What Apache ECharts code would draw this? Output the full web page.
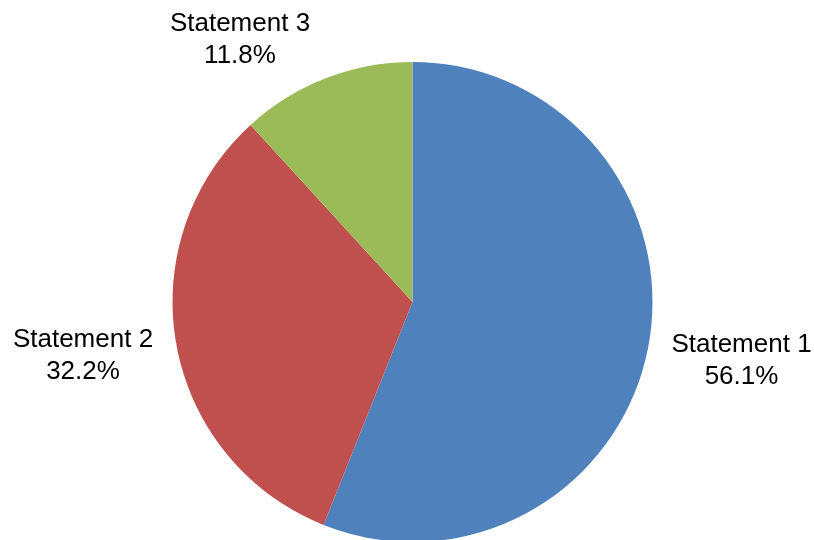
<!DOCTYPE html>
<html>
<head>
<meta charset="utf-8">
<script src="https://cdn.jsdelivr.net/npm/echarts@6/dist/echarts.min.js"></script>
<style>
  html, body { margin: 0; padding: 0; background: #ffffff; }
  #chart { width: 814px; height: 540px; }
</style>
</head>
<body>
<div id="chart"></div>
<script>
// Share of responses per statement (percent)
const categories = ['Statement 1', 'Statement 2', 'Statement 3'];
const shares = [56.1, 32.2, 11.8];
const colors = ['#4F81BD', '#C0504D', '#9BBB59'];

// Where each data label sits (centre of the text block, in px)
const labelSpots = [[741.5, 361], [83, 356], [240, 40]];

const chart = echarts.init(document.getElementById('chart'), null, { renderer: 'canvas' });

const data = categories.map((name, i) => ({
  name: name,
  value: shares[i],
  itemStyle: { color: colors[i] }
}));

chart.setOption({
  animation: false,
  backgroundColor: '#ffffff',
  series: [{
    type: 'pie',
    center: [412.5, 302],
    radius: 240,
    startAngle: 90,
    clockwise: true,
    data: data,
    itemStyle: { borderWidth: 0 },
    label: {
      show: true,
      position: 'outside',
      formatter: p => p.name + '\n' + p.value.toFixed(1) + '%',
      fontFamily: 'Liberation Sans, Arial, sans-serif',
      fontSize: 26,
      lineHeight: 32,
      color: '#000000',
      overflow: 'none',
      align: 'center'
    },
    labelLine: { show: false },
    labelLayout: p => ({
      x: labelSpots[p.dataIndex][0],
      y: labelSpots[p.dataIndex][1],
      align: 'center',
      verticalAlign: 'middle',
      hideOverlap: false
    }),
    emphasis: { disabled: true }
  }]
});
</script>
</body>
</html>
